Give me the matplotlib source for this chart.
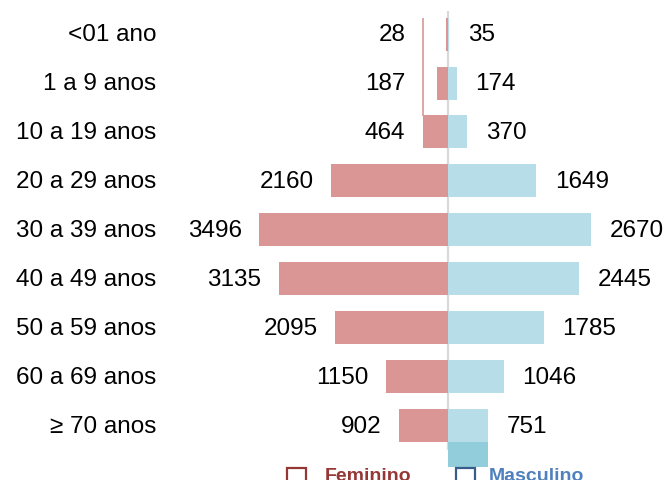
import matplotlib.pyplot as plt
from matplotlib.patches import Rectangle

# age groups, top to bottom
age_groups = ['<01 ano', '1 a 9 anos', '10 a 19 anos', '20 a 29 anos', '30 a 39 anos',
              '40 a 49 anos', '50 a 59 anos', '60 a 69 anos', '\u2265 70 anos']
feminino = [28, 187, 464, 2160, 3496, 3135, 2095, 1150, 902]
masculino = [35, 174, 370, 1649, 2670, 2445, 1785, 1046, 751]

FEM_COLOR = '#D99694'
MASC_COLOR = '#B7DEE8'
W, H = 667, 481

plt.rcParams['font.family'] = ['Liberation Sans', 'DejaVu Sans']

fig = plt.figure(figsize=(W / 100, H / 100), dpi=100)
ax = fig.add_axes([0, 0, 1, 1])
ax.axis('off')

# pixel mapping: center at x=447.5, ~0.0538 px per person; rows ~49 px apart starting at y=35
px_per_unit = 0.0538
row_px, top_px = 48.93, 35.1
ax.set_xlim(-447.5 / px_per_unit, (W - 447.5) / px_per_unit)
ax.set_ylim((H - top_px) / row_px, -top_px / row_px)

rows = list(range(len(age_groups)))
bar_h = 0.675

# center line and leftover artifacts seen in the original
ax.vlines(0, -0.47, 8.5, color='#D9D9D9', lw=1.6, zorder=1)
ax.vlines(-feminino[2], -0.33, 1.67, color=FEM_COLOR, lw=1.2, zorder=1)
ax.barh(8.6, masculino[-1], height=0.51, color='#92CDDC', zorder=2)

ax.barh(rows, [-v for v in feminino], height=bar_h, color=FEM_COLOR, zorder=2)
ax.barh(rows, masculino, height=bar_h, color=MASC_COLOR, zorder=2)

for i, (f, m) in enumerate(zip(feminino, masculino)):
    ax.annotate(str(f), (-max(f, 450), i), xytext=(-12.5, 0), textcoords='offset points',
                ha='right', va='center', fontsize=17.5)
    ax.annotate(str(m), (m, i), xytext=(13.5, 0), textcoords='offset points',
                ha='left', va='center', fontsize=17.5)
    ax.text(156 / W, i, age_groups[i], transform=ax.get_yaxis_transform(),
            ha='right', va='center', fontsize=17.5)

# legend at the bottom, cut off by the figure edge as in the original
fig.patches.append(Rectangle((287 / W, -8 / H), 19 / W, 20 / H, transform=fig.transFigure,
                             fill=False, edgecolor='#953735', lw=1.6))
fig.patches.append(Rectangle((456 / W, -8 / H), 19 / W, 20 / H, transform=fig.transFigure,
                             fill=False, edgecolor='#385D8A', lw=1.6))
fig.text(325 / W, 0, 'Feminino', color='#953735', fontsize=14, fontweight='bold',
         ha='left', va='baseline')
fig.text(489 / W, 0, 'Masculino', color='#4F81BD', fontsize=14, fontweight='bold',
         ha='left', va='baseline')

fig.savefig('out.png', dpi=100)
